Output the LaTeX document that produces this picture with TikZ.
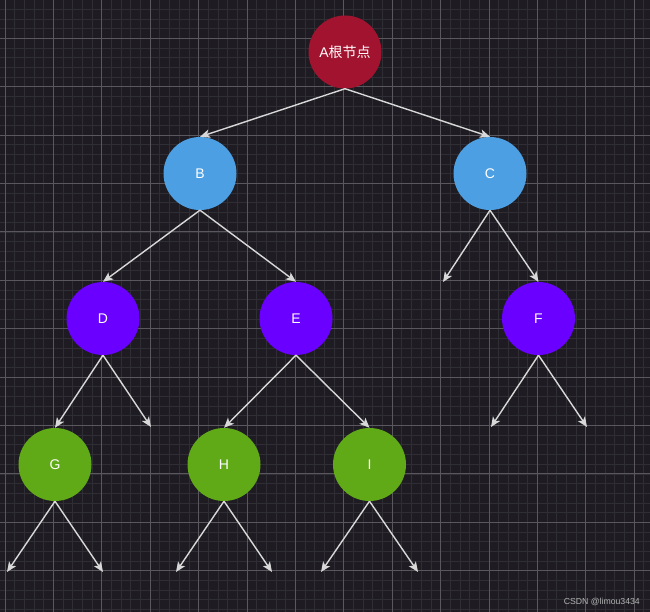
\documentclass[tikz,border=0pt]{standalone}
\usepackage{fontspec}
\setmainfont{Liberation Sans}
\newfontfamily\cjkfont{Noto Sans CJK SC}
\usetikzlibrary{arrows.meta}
\definecolor{bgc}{HTML}{1E1C22}
\definecolor{minorc}{HTML}{302E35}
\definecolor{majorc}{HTML}{5A585E}
\definecolor{redc}{HTML}{A2132F}
\definecolor{bluec}{HTML}{4C9FE3}
\definecolor{purplec}{HTML}{6A00FF}
\definecolor{greenc}{HTML}{60A917}
\definecolor{edgec}{HTML}{D8D8D8}
\tikzset{
  treenode/.style={circle, minimum size=73pt, inner sep=0pt, text=white, font=\fontsize{14}{16}\selectfont},
  rootnode/.style={treenode, fill=redc},
  bluenode/.style={treenode, fill=bluec},
  purplenode/.style={treenode, fill=purplec},
  greennode/.style={treenode, fill=greenc},
  arr/.style={draw=edgec, line width=1.4pt, -{Stealth[length=10pt,width=8.5pt,inset=2.5pt]}},
  minorline/.style={draw=minorc, line width=0.8pt},
  majorline/.style={draw=majorc, line width=1pt}
}
\begin{document}
\begin{tikzpicture}[x=1pt,y=-1pt]
\useasboundingbox (0,0) rectangle (650,612);
\fill[bgc] (0,0) rectangle (650,612);
\begin{scope}
\clip (0,0) rectangle (650,612);
\foreach \i in {0,...,67} {\draw[minorline] ({5+9.68*\i},0) -- ({5+9.68*\i},612);}
\foreach \i in {0,...,64} {\draw[minorline] (0,{-0.4+9.68*\i}) -- (650,{-0.4+9.68*\i});}
\foreach \i in {0,...,13} {\draw[majorline] ({5+48.4*\i},0) -- ({5+48.4*\i},612);}
\foreach \i in {-1,...,12} {\draw[majorline] (0,{38.3+48.4*\i}) -- (650,{38.3+48.4*\i});}
\end{scope}

\node[rootnode] (A) at (345,52) {A{\cjkfont 根节点}};
\node[bluenode] (B) at (200,173.5) {B};
\node[bluenode] (C) at (490,173.5) {C};
\node[purplenode] (D) at (103,318.5) {D};
\node[purplenode] (E) at (296,318.5) {E};
\node[purplenode] (F) at (538.5,318.5) {F};
\node[greennode] (G) at (55,464.5) {G};
\node[greennode] (H) at (224,464.5) {H};
\node[greennode] (I) at (369.5,464.5) {I};

\coordinate (c1) at (443,282);
\coordinate (d2) at (151,427);
\coordinate (f1) at (491,427);
\coordinate (f2) at (587,427);
\coordinate (g1) at (7,572);
\coordinate (g2) at (103,572);
\coordinate (h1) at (176,572);
\coordinate (h2) at (272,572);
\coordinate (i1) at (321,572);
\coordinate (i2) at (418,572);

\draw[arr] (A.south) -- (B.north);
\draw[arr] (A.south) -- (C.north);
\draw[arr] (B.south) -- (D.north);
\draw[arr] (B.south) -- (E.north);
\draw[arr] (C.south) -- (c1);
\draw[arr] (C.south) -- (F.north);
\draw[arr] (D.south) -- (G.north);
\draw[arr] (D.south) -- (d2);
\draw[arr] (E.south) -- (H.north);
\draw[arr] (E.south) -- (I.north);
\draw[arr] (F.south) -- (f1);
\draw[arr] (F.south) -- (f2);
\draw[arr] (G.south) -- (g1);
\draw[arr] (G.south) -- (g2);
\draw[arr] (H.south) -- (h1);
\draw[arr] (H.south) -- (h2);
\draw[arr] (I.south) -- (i1);
\draw[arr] (I.south) -- (i2);

\node[anchor=east, text=gray!60!white, font=\fontsize{8.7}{10}\selectfont, inner sep=0pt] (wm) at (640,602) {CSDN @limou3434};
\end{tikzpicture}
\end{document}
